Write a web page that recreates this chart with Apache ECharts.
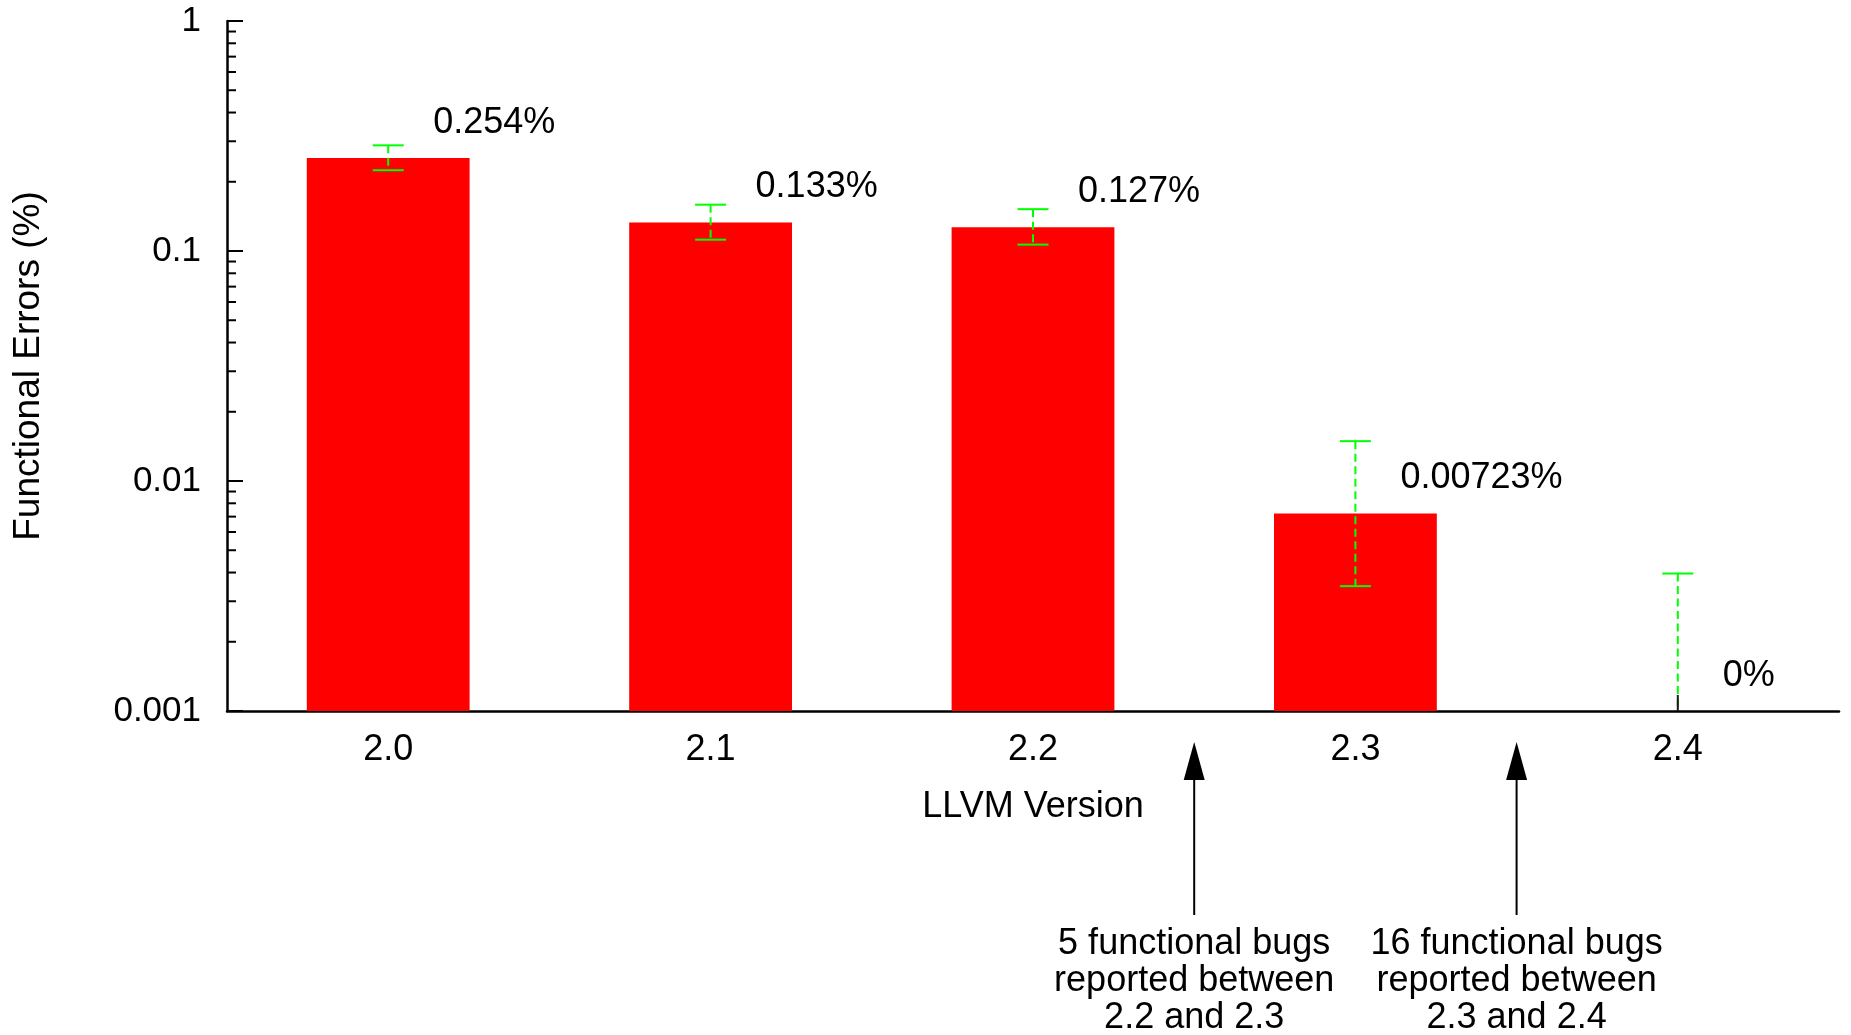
<!DOCTYPE html>
<html>
<head>
<meta charset="utf-8">
<script src="https://cdn.jsdelivr.net/npm/echarts@6/dist/echarts.min.js"></script>
<style>
html,body{margin:0;padding:0;background:#fff;}
#chart{width:1851px;height:1035px;}
</style>
</head>
<body>
<div id="chart"></div>
<script>
// ---- data ----
const categories = ['2.0', '2.1', '2.2', '2.3', '2.4'];
const errorRates = [0.254, 0.133, 0.127, 0.00723, 0];       // functional errors (%)
const errorLow   = [0.2245, 0.112, 0.1066, 0.00349, 0];     // lower error bound
const errorHigh  = [0.288, 0.159, 0.152, 0.0149, 0.00396];  // upper error bound
const yTickValues = [0.001, 0.01, 0.1, 1];
const yTickLabels = ['0.001', '0.01', '0.1', '1'];
const annotationAfter = [2, 3];   // arrow placed after this category index
const bugCounts = [5, 16];

const FONT = '"Liberation Sans", Arial, Helvetica, sans-serif';
const Y_MIN = yTickValues[0], Y_MAX = yTickValues[yTickValues.length - 1];

// minor ticks of the log axis (2..9 within each decade)
const minorTicks = [];
for (let d = 0; d < yTickValues.length - 1; d++) {
  for (let m = 2; m <= 9; m++) minorTicks.push(yTickValues[d] * m);
}
const annotationTexts = annotationAfter.map((idx, k) =>
  bugCounts[k] + ' functional bugs\nreported between\n' + categories[idx] + ' and ' + categories[idx + 1]);

const chart = echarts.init(document.getElementById('chart'), null, {renderer: 'canvas'});

const option = {
  backgroundColor: '#ffffff',
  animation: false,
  grid: {left: 227, right: 12, top: 21, bottom: 324, containLabel: false, outerBoundsMode: 'none'},
  xAxis: {
    type: 'category',
    data: categories,
    boundaryGap: true,
    name: 'LLVM Version',
    nameLocation: 'middle',
    nameGap: 78,
    nameTextStyle: {fontSize: 36, fontFamily: FONT, color: '#000'},
    axisLine: {lineStyle: {color: '#000', width: 2.5}},
    axisTick: {inside: true, alignWithLabel: true, length: 15, lineStyle: {color: '#000', width: 2}},
    axisLabel: {fontSize: 36, fontFamily: FONT, color: '#000', margin: 21},
    splitLine: {show: false}
  },
  yAxis: {
    type: 'log',
    logBase: 10,
    min: Y_MIN,
    max: Y_MAX,
    splitNumber: 3,
    name: 'Functional Errors (%)',
    nameLocation: 'middle',
    nameGap: 180,
    nameTextStyle: {fontSize: 37, fontFamily: FONT, color: '#000'},
    axisLine: {show: true, lineStyle: {color: '#000', width: 2.5}},
    axisTick: {show: true, inside: true, length: 16, lineStyle: {color: '#000', width: 2}},
    axisLabel: {
      fontSize: 35, fontFamily: FONT, color: '#000', margin: 26,
      formatter: function (v) {
        let best = 0;
        for (let i = 0; i < yTickValues.length; i++) {
          if (Math.abs(Math.log10(yTickValues[i]) - Math.log10(v)) < Math.abs(Math.log10(yTickValues[best]) - Math.log10(v))) best = i;
        }
        return yTickLabels[best];
      }
    },
    splitLine: {show: false},
    minorTick: {show: false}
  },
  series: [
    // minor ticks on the log axis
    {
      type: 'custom',
      name: 'minorTicks',
      silent: true,
      z: 1,
      data: minorTicks.map(v => [0, v]),
      renderItem: function (params, api) {
        const y = api.coord([0, api.value(1)])[1];
        const x0 = params.coordSys.x;
        return {type: 'line', shape: {x1: x0, y1: y, x2: x0 + 9, y2: y},
          style: {stroke: '#000', lineWidth: 2}};
      }
    },
    // bars
    {
      type: 'custom',
      name: 'Functional Errors',
      z: 2,
      data: errorRates.map((v, i) => [i, v > 0 ? v : '-']),
      renderItem: function (params, api) {
        const v = errorRates[params.dataIndex];
        if (!(v > 0)) return null;
        const i = api.value(0);
        const top = api.coord([i, v]);
        const base = api.coord([i, Y_MIN]);
        const w = api.size([1, 0])[0] * 0.505;
        return {type: 'rect', shape: {x: top[0] - w / 2, y: top[1], width: w, height: base[1] - top[1]},
          style: {fill: '#ff0000'}};
      }
    },
    // error bars
    {
      type: 'custom',
      name: 'error',
      z: 3,
      data: errorHigh.map((h, i) => [i, h, errorLow[i]]),
      renderItem: function (params, api) {
        const i = api.value(0);
        const hi = errorHigh[params.dataIndex];
        const lo = Math.max(errorLow[params.dataIndex], Y_MIN);
        const pHi = api.coord([i, hi]);
        const pLo = api.coord([i, lo]);
        const cap = 15.5;
        const children = [
          {type: 'line', shape: {x1: pHi[0], y1: pHi[1], x2: pLo[0], y2: pLo[1]},
            style: {stroke: '#00ff00', lineWidth: 2, lineDash: [8, 4.5]}},
          {type: 'line', shape: {x1: pHi[0] - cap, y1: pHi[1], x2: pHi[0] + cap, y2: pHi[1]},
            style: {stroke: '#00ff00', lineWidth: 2}}
        ];
        if (errorLow[params.dataIndex] > Y_MIN) {
          children.push({type: 'line', shape: {x1: pLo[0] - cap, y1: pLo[1], x2: pLo[0] + cap, y2: pLo[1]},
            style: {stroke: '#00ff00', lineWidth: 2}});
        } else {
          // zero-height bar: short dark stub at the axis
          children.push({type: 'line', shape: {x1: pLo[0], y1: pLo[1] - 16, x2: pLo[0], y2: pLo[1]},
            style: {stroke: '#1a1a1a', lineWidth: 2}});
        }
        return {type: 'group', children: children};
      }
    },
    // value labels
    {
      type: 'custom',
      name: 'labels',
      z: 4,
      clip: false,
      data: errorRates.map((v, i) => [i, v > 0 ? v : '-']),
      renderItem: function (params, api) {
        const v = errorRates[params.dataIndex];
        const i = api.value(0);
        const p = api.coord([i, v > 0 ? v : Y_MIN]);
        return {type: 'text', x: p[0] + 45, y: p[1] - 35,
          style: {text: v + '%', fontSize: 36, fontFamily: FONT, fill: '#000',
            align: 'left', verticalAlign: 'middle'}};
      }
    },
    // annotations with arrows
    {
      type: 'custom',
      name: 'annotations',
      z: 4,
      clip: false,
      data: annotationAfter.map(idx => [idx]),
      renderItem: function (params, api) {
        const idx = api.value(0);
        const c = api.coord([idx, Y_MIN]);
        const band = api.size([1, 0])[0];
        const x = c[0] + band / 2;
        const ay = c[1];
        return {type: 'group', children: [
          {type: 'line', shape: {x1: x, y1: ay + 66, x2: x, y2: ay + 204},
            style: {stroke: '#000', lineWidth: 2}},
          {type: 'polygon', shape: {points: [[x, ay + 31], [x - 10.5, ay + 69], [x + 10.5, ay + 69]]},
            style: {fill: '#000'}},
          {type: 'text', x: x, y: ay + 215,
            style: {text: annotationTexts[params.dataIndex], fontSize: 36, fontFamily: FONT,
              fill: '#000', align: 'center', verticalAlign: 'top', lineHeight: 37}}
        ]};
      }
    }
  ]
};
chart.setOption(option);
</script>
</body>
</html>
